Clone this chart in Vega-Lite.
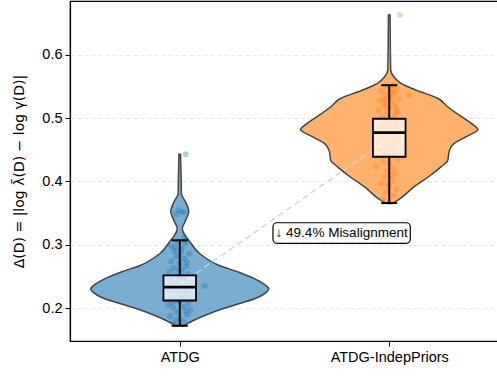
{
  "$schema": "https://vega.github.io/schema/vega-lite/v6.json",
  "width": 429,
  "height": 340,
  "autosize": {"type": "none"},
  "padding": {"left": 70, "top": 1, "right": 0, "bottom": 35},
  "background": "white",
  "config": {
    "view": {"stroke": "black", "strokeWidth": 1.2},
    "axis": {
      "labelFont": "Liberation Sans", "labelFontSize": 14.5, "labelColor": "black",
      "tickColor": "black", "tickSize": 5, "tickWidth": 1, "domainColor": "black", "domainWidth": 1.2,
      "titleFont": "DejaVu Sans", "titleFontSize": 14, "titleFontWeight": "normal", "titleColor": "black"
    },
    "axisY": {"gridDash": [4, 3], "gridColor": "#e2e2e2", "gridWidth": 0.8},
    "axisX": {"grid": false}
  },
  "datasets": {
    "violin": [
      {"group": "ATDG", "v": 0.1723, "lo": -0.019, "hi": 0.019},
      {"group": "ATDG", "v": 0.1803, "lo": -0.065, "hi": 0.065},
      {"group": "ATDG", "v": 0.1934, "lo": -0.158, "hi": 0.158},
      {"group": "ATDG", "v": 0.2067, "lo": -0.282, "hi": 0.282},
      {"group": "ATDG", "v": 0.2171, "lo": -0.375, "hi": 0.375},
      {"group": "ATDG", "v": 0.2240, "lo": -0.410, "hi": 0.410},
      {"group": "ATDG", "v": 0.2304, "lo": -0.425, "hi": 0.425},
      {"group": "ATDG", "v": 0.2360, "lo": -0.410, "hi": 0.410},
      {"group": "ATDG", "v": 0.2435, "lo": -0.375, "hi": 0.375},
      {"group": "ATDG", "v": 0.2567, "lo": -0.282, "hi": 0.282},
      {"group": "ATDG", "v": 0.2673, "lo": -0.189, "hi": 0.189},
      {"group": "ATDG", "v": 0.2858, "lo": -0.096, "hi": 0.096},
      {"group": "ATDG", "v": 0.3068, "lo": -0.044, "hi": 0.044},
      {"group": "ATDG", "v": 0.3150, "lo": -0.025, "hi": 0.025},
      {"group": "ATDG", "v": 0.3253, "lo": -0.012, "hi": 0.012},
      {"group": "ATDG", "v": 0.3385, "lo": -0.028, "hi": 0.028},
      {"group": "ATDG", "v": 0.3527, "lo": -0.043, "hi": 0.043},
      {"group": "ATDG", "v": 0.3674, "lo": -0.028, "hi": 0.028},
      {"group": "ATDG", "v": 0.3807, "lo": -0.008, "hi": 0.008},
      {"group": "ATDG", "v": 0.3950, "lo": -0.007, "hi": 0.007},
      {"group": "ATDG", "v": 0.4124, "lo": -0.006, "hi": 0.006},
      {"group": "ATDG", "v": 0.4250, "lo": -0.005, "hi": 0.005},
      {"group": "ATDG", "v": 0.4430, "lo": -0.004, "hi": 0.004},
      {"group": "ATDG-IndepPriors", "v": 0.365, "lo": 0.986, "hi": 1.014},
      {"group": "ATDG-IndepPriors", "v": 0.375, "lo": 0.940, "hi": 1.060},
      {"group": "ATDG-IndepPriors", "v": 0.391, "lo": 0.884, "hi": 1.116},
      {"group": "ATDG-IndepPriors", "v": 0.407, "lo": 0.814, "hi": 1.186},
      {"group": "ATDG-IndepPriors", "v": 0.423, "lo": 0.753, "hi": 1.247},
      {"group": "ATDG-IndepPriors", "v": 0.433, "lo": 0.721, "hi": 1.279},
      {"group": "ATDG-IndepPriors", "v": 0.449, "lo": 0.713, "hi": 1.287},
      {"group": "ATDG-IndepPriors", "v": 0.460, "lo": 0.690, "hi": 1.310},
      {"group": "ATDG-IndepPriors", "v": 0.470, "lo": 0.637, "hi": 1.363},
      {"group": "ATDG-IndepPriors", "v": 0.482, "lo": 0.577, "hi": 1.423},
      {"group": "ATDG-IndepPriors", "v": 0.491, "lo": 0.605, "hi": 1.395},
      {"group": "ATDG-IndepPriors", "v": 0.505, "lo": 0.667, "hi": 1.333},
      {"group": "ATDG-IndepPriors", "v": 0.518, "lo": 0.721, "hi": 1.279},
      {"group": "ATDG-IndepPriors", "v": 0.531, "lo": 0.767, "hi": 1.233},
      {"group": "ATDG-IndepPriors", "v": 0.544, "lo": 0.870, "hi": 1.130},
      {"group": "ATDG-IndepPriors", "v": 0.555, "lo": 0.944, "hi": 1.056},
      {"group": "ATDG-IndepPriors", "v": 0.565, "lo": 0.977, "hi": 1.023},
      {"group": "ATDG-IndepPriors", "v": 0.576, "lo": 0.993, "hi": 1.007},
      {"group": "ATDG-IndepPriors", "v": 0.620, "lo": 0.995, "hi": 1.005},
      {"group": "ATDG-IndepPriors", "v": 0.663, "lo": 0.996, "hi": 1.004}
    ],
    "points": [
      {"group": "ATDG", "x": -0.03, "v": 0.175}, {"group": "ATDG", "x": 0.02, "v": 0.178},
      {"group": "ATDG", "x": 0.0, "v": 0.183}, {"group": "ATDG", "x": -0.045, "v": 0.187},
      {"group": "ATDG", "x": 0.035, "v": 0.19}, {"group": "ATDG", "x": -0.01, "v": 0.193},
      {"group": "ATDG", "x": 0.05, "v": 0.197}, {"group": "ATDG", "x": -0.03, "v": 0.2},
      {"group": "ATDG", "x": 0.015, "v": 0.202}, {"group": "ATDG", "x": -0.055, "v": 0.205},
      {"group": "ATDG", "x": 0.04, "v": 0.207}, {"group": "ATDG", "x": 0.0, "v": 0.21},
      {"group": "ATDG", "x": -0.02, "v": 0.212}, {"group": "ATDG", "x": 0.025, "v": 0.214},
      {"group": "ATDG", "x": -0.04, "v": 0.216}, {"group": "ATDG", "x": 0.055, "v": 0.218},
      {"group": "ATDG", "x": 0.01, "v": 0.22}, {"group": "ATDG", "x": -0.015, "v": 0.222},
      {"group": "ATDG", "x": 0.03, "v": 0.224}, {"group": "ATDG", "x": -0.05, "v": 0.226},
      {"group": "ATDG", "x": 0.0, "v": 0.228}, {"group": "ATDG", "x": 0.045, "v": 0.23},
      {"group": "ATDG", "x": -0.025, "v": 0.231}, {"group": "ATDG", "x": 0.02, "v": 0.233},
      {"group": "ATDG", "x": 0.119, "v": 0.235}, {"group": "ATDG", "x": -0.035, "v": 0.236},
      {"group": "ATDG", "x": 0.01, "v": 0.238}, {"group": "ATDG", "x": 0.05, "v": 0.24},
      {"group": "ATDG", "x": -0.01, "v": 0.242}, {"group": "ATDG", "x": 0.03, "v": 0.244},
      {"group": "ATDG", "x": -0.045, "v": 0.246}, {"group": "ATDG", "x": 0.0, "v": 0.248},
      {"group": "ATDG", "x": 0.02, "v": 0.25}, {"group": "ATDG", "x": -0.02, "v": 0.252},
      {"group": "ATDG", "x": 0.04, "v": 0.254}, {"group": "ATDG", "x": -0.05, "v": 0.257},
      {"group": "ATDG", "x": 0.01, "v": 0.26}, {"group": "ATDG", "x": -0.03, "v": 0.263},
      {"group": "ATDG", "x": 0.03, "v": 0.266}, {"group": "ATDG", "x": 0.0, "v": 0.27},
      {"group": "ATDG", "x": -0.04, "v": 0.274}, {"group": "ATDG", "x": 0.02, "v": 0.278},
      {"group": "ATDG", "x": -0.015, "v": 0.282}, {"group": "ATDG", "x": 0.045, "v": 0.286},
      {"group": "ATDG", "x": -0.025, "v": 0.29}, {"group": "ATDG", "x": 0.01, "v": 0.294},
      {"group": "ATDG", "x": -0.04, "v": 0.298}, {"group": "ATDG", "x": 0.025, "v": 0.302},
      {"group": "ATDG", "x": -0.01, "v": 0.305}, {"group": "ATDG", "x": 0.03, "v": 0.307},
      {"group": "ATDG", "x": 0.022, "v": 0.312}, {"group": "ATDG", "x": -0.015, "v": 0.348},
      {"group": "ATDG", "x": 0.01, "v": 0.352}, {"group": "ATDG", "x": -0.005, "v": 0.355},
      {"group": "ATDG", "x": 0.02, "v": 0.351}, {"group": "ATDG", "x": 0.028, "v": 0.443},
      {"group": "ATDG", "x": -0.02, "v": 0.18}, {"group": "ATDG", "x": 0.03, "v": 0.196},
      {"group": "ATDG", "x": -0.035, "v": 0.209}, {"group": "ATDG", "x": 0.012, "v": 0.217},
      {"group": "ATDG", "x": -0.005, "v": 0.261}, {"group": "ATDG", "x": 0.035, "v": 0.272},
      {"group": "ATDG", "x": -0.02, "v": 0.296}, {"group": "ATDG", "x": 0.005, "v": 0.288},
      {"group": "ATDG-IndepPriors", "x": 1.0, "v": 0.368}, {"group": "ATDG-IndepPriors", "x": 0.97, "v": 0.372},
      {"group": "ATDG-IndepPriors", "x": 1.02, "v": 0.378}, {"group": "ATDG-IndepPriors", "x": 0.985, "v": 0.383},
      {"group": "ATDG-IndepPriors", "x": 1.035, "v": 0.388}, {"group": "ATDG-IndepPriors", "x": 1.0, "v": 0.392},
      {"group": "ATDG-IndepPriors", "x": 0.96, "v": 0.397}, {"group": "ATDG-IndepPriors", "x": 1.015, "v": 0.402},
      {"group": "ATDG-IndepPriors", "x": 0.98, "v": 0.407}, {"group": "ATDG-IndepPriors", "x": 1.03, "v": 0.412},
      {"group": "ATDG-IndepPriors", "x": 0.99, "v": 0.417}, {"group": "ATDG-IndepPriors", "x": 0.935, "v": 0.424},
      {"group": "ATDG-IndepPriors", "x": 1.02, "v": 0.42}, {"group": "ATDG-IndepPriors", "x": 1.0, "v": 0.428},
      {"group": "ATDG-IndepPriors", "x": 0.97, "v": 0.432}, {"group": "ATDG-IndepPriors", "x": 1.04, "v": 0.436},
      {"group": "ATDG-IndepPriors", "x": 1.01, "v": 0.44}, {"group": "ATDG-IndepPriors", "x": 0.98, "v": 0.444},
      {"group": "ATDG-IndepPriors", "x": 1.03, "v": 0.447}, {"group": "ATDG-IndepPriors", "x": 0.955, "v": 0.45},
      {"group": "ATDG-IndepPriors", "x": 1.0, "v": 0.453}, {"group": "ATDG-IndepPriors", "x": 0.946, "v": 0.46},
      {"group": "ATDG-IndepPriors", "x": 1.02, "v": 0.457}, {"group": "ATDG-IndepPriors", "x": 0.99, "v": 0.462},
      {"group": "ATDG-IndepPriors", "x": 1.035, "v": 0.465}, {"group": "ATDG-IndepPriors", "x": 0.97, "v": 0.468},
      {"group": "ATDG-IndepPriors", "x": 1.01, "v": 0.471}, {"group": "ATDG-IndepPriors", "x": 1.045, "v": 0.474},
      {"group": "ATDG-IndepPriors", "x": 0.985, "v": 0.477}, {"group": "ATDG-IndepPriors", "x": 1.02, "v": 0.48},
      {"group": "ATDG-IndepPriors", "x": 0.96, "v": 0.483}, {"group": "ATDG-IndepPriors", "x": 1.0, "v": 0.486},
      {"group": "ATDG-IndepPriors", "x": 1.03, "v": 0.489}, {"group": "ATDG-IndepPriors", "x": 0.98, "v": 0.492},
      {"group": "ATDG-IndepPriors", "x": 1.05, "v": 0.495}, {"group": "ATDG-IndepPriors", "x": 1.01, "v": 0.498},
      {"group": "ATDG-IndepPriors", "x": 0.965, "v": 0.501}, {"group": "ATDG-IndepPriors", "x": 1.025, "v": 0.504},
      {"group": "ATDG-IndepPriors", "x": 0.99, "v": 0.507}, {"group": "ATDG-IndepPriors", "x": 1.04, "v": 0.51},
      {"group": "ATDG-IndepPriors", "x": 0.95, "v": 0.513}, {"group": "ATDG-IndepPriors", "x": 1.0, "v": 0.516},
      {"group": "ATDG-IndepPriors", "x": 1.03, "v": 0.519}, {"group": "ATDG-IndepPriors", "x": 0.975, "v": 0.522},
      {"group": "ATDG-IndepPriors", "x": 1.015, "v": 0.525}, {"group": "ATDG-IndepPriors", "x": 0.955, "v": 0.528},
      {"group": "ATDG-IndepPriors", "x": 1.045, "v": 0.53}, {"group": "ATDG-IndepPriors", "x": 1.0, "v": 0.533},
      {"group": "ATDG-IndepPriors", "x": 1.093, "v": 0.536}, {"group": "ATDG-IndepPriors", "x": 0.98, "v": 0.538},
      {"group": "ATDG-IndepPriors", "x": 1.025, "v": 0.541}, {"group": "ATDG-IndepPriors", "x": 0.96, "v": 0.543},
      {"group": "ATDG-IndepPriors", "x": 1.01, "v": 0.546}, {"group": "ATDG-IndepPriors", "x": 1.035, "v": 0.548},
      {"group": "ATDG-IndepPriors", "x": 0.99, "v": 0.55}, {"group": "ATDG-IndepPriors", "x": 1.02, "v": 0.552},
      {"group": "ATDG-IndepPriors", "x": 1.05, "v": 0.663},
      {"group": "ATDG-IndepPriors", "x": 0.99, "v": 0.527}, {"group": "ATDG-IndepPriors", "x": 1.015, "v": 0.535},
      {"group": "ATDG-IndepPriors", "x": 0.975, "v": 0.53}, {"group": "ATDG-IndepPriors", "x": 1.03, "v": 0.512},
      {"group": "ATDG-IndepPriors", "x": 0.985, "v": 0.518}, {"group": "ATDG-IndepPriors", "x": 1.005, "v": 0.54},
      {"group": "ATDG-IndepPriors", "x": 0.995, "v": 0.395}, {"group": "ATDG-IndepPriors", "x": 1.01, "v": 0.41}
    ],
    "box": [
      {"group": "ATDG", "g": 0, "lo": 0.172, "q1": 0.212, "med": 0.233, "q3": 0.2515, "hi": 0.307},
      {"group": "ATDG-IndepPriors", "g": 1, "lo": 0.366, "q1": 0.439, "med": 0.477, "q3": 0.499, "hi": 0.552}
    ],
    "means": [
      {"g": 0, "v": 0.237},
      {"g": 1, "v": 0.468}
    ]
  },
  "layer": [
    {
      "data": {"name": "violin"},
      "mark": {"type": "area", "orient": "horizontal", "interpolate": "monotone", "stroke": "#444444", "strokeWidth": 1.5, "opacity": 1},
      "encoding": {
        "y": {"field": "v", "type": "quantitative", "scale": {"domain": [0.148, 0.685], "nice": false, "zero": false},
              "axis": {"values": [0.2, 0.3, 0.4, 0.5, 0.6], "format": ".1f", "grid": true, "labelPadding": 3, "titlePadding": 15,
                       "title": "Δ(D) = |log λ̄(D) − log γ(D)|"}},
        "x": {"field": "lo", "type": "quantitative", "stack": null, "scale": {"domain": [-0.5, 1.5], "nice": false, "zero": false},
              "axis": {"values": [0, 1], "labelExpr": "datum.value == 0 ? 'ATDG' : 'ATDG-IndepPriors'", "title": null, "grid": false, "labelPadding": 4}},
        "x2": {"field": "hi"},
        "detail": {"field": "group"},
        "fill": {"condition": {"test": "datum.group == 'ATDG'", "value": "#79add2"}, "value": "#ffb26e"}
      }
    },
    {
      "data": {"name": "points"},
      "mark": {"type": "circle", "size": 36, "opacity": 0.35},
      "encoding": {
        "x": {"field": "x", "type": "quantitative"},
        "y": {"field": "v", "type": "quantitative"},
        "color": {"condition": {"test": "datum.group == 'ATDG'", "value": "#1f77b4"}, "value": "#ff7f0e"}
      }
    },
    {
      "data": {"name": "means"},
      "mark": {"type": "line", "color": "#d0d0d0", "strokeWidth": 1.3, "strokeDash": [6, 4]},
      "encoding": {
        "x": {"field": "g", "type": "quantitative"},
        "y": {"field": "v", "type": "quantitative"}
      }
    },
    {
      "data": {"name": "box"},
      "mark": {"type": "rule", "color": "black", "strokeWidth": 2},
      "encoding": {
        "x": {"field": "g", "type": "quantitative"},
        "y": {"field": "lo", "type": "quantitative"},
        "y2": {"field": "q1"}
      }
    },
    {
      "data": {"name": "box"},
      "mark": {"type": "rule", "color": "black", "strokeWidth": 2},
      "encoding": {
        "x": {"field": "g", "type": "quantitative"},
        "y": {"field": "q3", "type": "quantitative"},
        "y2": {"field": "hi"}
      }
    },
    {
      "data": {"name": "box"},
      "mark": {"type": "bar", "width": 32.6, "fill": "white", "fillOpacity": 0.72, "stroke": "black", "strokeWidth": 1.8},
      "encoding": {
        "x": {"field": "g", "type": "quantitative"},
        "y": {"field": "q1", "type": "quantitative"},
        "y2": {"field": "q3"}
      }
    },
    {
      "data": {"name": "box"},
      "mark": {"type": "tick", "orient": "horizontal", "size": 16, "thickness": 2, "color": "black", "opacity": 1},
      "encoding": {
        "x": {"field": "g", "type": "quantitative"},
        "y": {"field": "lo", "type": "quantitative"}
      }
    },
    {
      "data": {"name": "box"},
      "mark": {"type": "tick", "orient": "horizontal", "size": 16, "thickness": 2, "color": "black", "opacity": 1},
      "encoding": {
        "x": {"field": "g", "type": "quantitative"},
        "y": {"field": "hi", "type": "quantitative"}
      }
    },
    {
      "data": {"name": "box"},
      "mark": {"type": "tick", "orient": "horizontal", "size": 32.6, "thickness": 2.8, "color": "black", "opacity": 1},
      "encoding": {
        "x": {"field": "g", "type": "quantitative"},
        "y": {"field": "med", "type": "quantitative"}
      }
    },
    {
      "data": {"values": [{}]},
      "mark": {"type": "rect", "fill": "white", "stroke": "black", "strokeWidth": 1.2, "cornerRadius": 4},
      "encoding": {
        "x": {"datum": 0.445, "type": "quantitative"},
        "x2": {"datum": 1.1005},
        "y": {"datum": 0.3348, "type": "quantitative"},
        "y2": {"datum": 0.3023}
      }
    },
    {
      "data": {"values": [{}]},
      "mark": {"type": "text", "text": "↓ 49.4% Misalignment", "font": "Liberation Sans", "fontSize": 13.5, "color": "black", "align": "center", "baseline": "middle"},
      "encoding": {
        "x": {"datum": 0.7727, "type": "quantitative"},
        "y": {"datum": 0.3186, "type": "quantitative"}
      }
    }
  ]
}
